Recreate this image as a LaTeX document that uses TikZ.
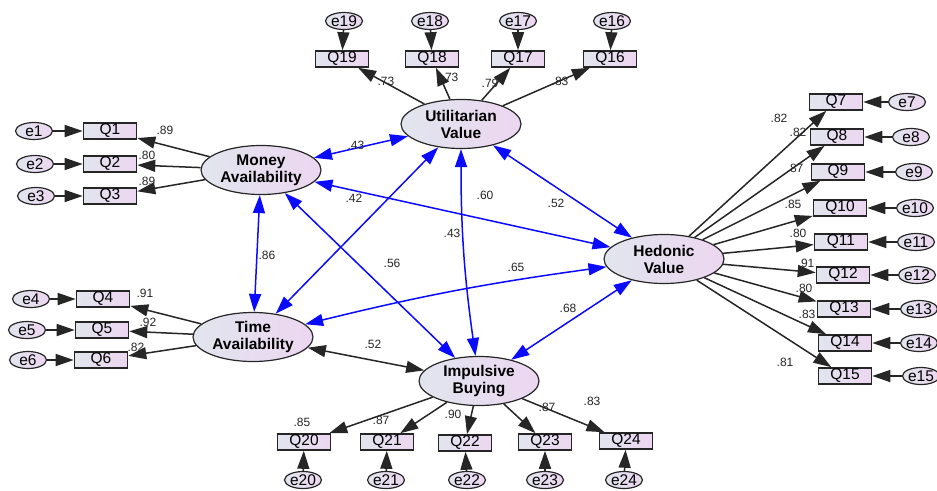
\documentclass[tikz,border=0pt]{standalone}
\usepackage{fontspec}
\setmainfont{Liberation Sans}
\usetikzlibrary{arrows.meta,shapes.geometric}

\begin{document}
\begin{tikzpicture}[x=1pt, y=-1pt,
    amosTip/.tip={Triangle[length=18pt,width=12pt]},
    latentVar/.style={ellipse, draw=lineCol, line width=1.2pt, left color=leftFill, right color=rightFill,
        minimum width=120pt, minimum height=49pt, inner sep=0pt, align=center,
        font=\bfseries\fontsize{15.5}{17}\selectfont},
    itemBox/.style={rectangle, draw=lineCol, line width=1.6pt, left color=leftFill, right color=rightFill,
        minimum width=53pt, minimum height=16pt, inner sep=0pt, font=\fontsize{15.5}{15.5}\selectfont},
    errVar/.style={ellipse, draw=lineCol, line width=1.2pt, left color=leftFill, right color=rightFill,
        minimum width=37pt, minimum height=17pt, inner sep=0pt, font=\fontsize{15.5}{15.5}\selectfont},
    coefLabel/.style={font=\fontsize{12}{12}\selectfont, text=black!85, inner sep=0pt},
    loadLine/.style={-amosTip, line width=1.5pt, draw=lineCol},
    covLine/.style={amosTip-amosTip, line width=1.5pt, draw=covCol}]

    % Colors
    \definecolor{lineCol}{HTML}{262626}
    \definecolor{covCol}{HTML}{0A0AFF}
    \definecolor{leftFill}{HTML}{E1E5EE}
    \definecolor{rightFill}{HTML}{EDD6F1}

    \useasboundingbox (0,0) rectangle (937,490);

    % 1. Latent variables
    \node[latentVar] (money) at (261,170) {Money\\Availability};
    \node[latentVar] (util)  at (461,124) {Utilitarian\\Value};
    \node[latentVar] (hed)   at (664,259) {Hedonic\\Value};
    \node[latentVar] (time)  at (253,337) {Time\\Availability};
    \node[latentVar] (imp)   at (479,381) {Impulsive\\Buying};

    % 2. Money Availability indicators (left)
    \foreach \i/\y/\ex/\v/\lx/\ly in {1/131/34/.89/165/130, 2/164/35/.80/147/155, 3/196/36/.89/147/181} {
        \node[itemBox] (q\i) at (110,\y) {Q\i};
        \node[errVar] (e\i) at (\ex,\y) {e\i};
        \draw[loadLine] (e\i) -- (q\i);
        \draw[loadLine] (money) -- (q\i);
        \node[coefLabel] (c\i) at (\lx,\ly) {\v};
    }

    % 3. Time Availability indicators (left)
    \foreach \i/\y/\qx/\ex/\v/\lx/\ly in {4/299/103/31/.91/145/293, 5/330/102/27/.92/148/322, 6/360/101/28/.82/136/347} {
        \node[itemBox] (q\i) at (\qx,\y) {Q\i};
        \node[errVar] (e\i) at (\ex,\y) {e\i};
        \draw[loadLine] (e\i) -- (q\i);
        \draw[loadLine] (time) -- (q\i);
        \node[coefLabel] (c\i) at (\lx,\ly) {\v};
    }

    % 4. Hedonic Value indicators (right)
    \foreach \i/\y/\qx/\ex/\v/\lx/\ly in {7/102/836/907/.82/779/118, 8/137/837/911/.82/798/132,
            9/172/838/914/.87/795/168, 10/208/840/915/.85/793/204, 11/242/841/916/.80/798/233,
            12/275/843/917/.91/806/263, 13/309/844/919/.80/804/288, 14/343/845/919/.83/807/314,
            15/376/845/921/.81/785/362} {
        \node[itemBox] (q\i) at (\qx,\y) {Q\i};
        \node[errVar] (e\i) at (\ex,\y) {e\i};
        \draw[loadLine] (e\i) -- (q\i);
        \draw[loadLine] (hed) -- (q\i);
        \node[coefLabel] (c\i) at (\lx,\ly) {\v};
    }

    % 5. Utilitarian Value indicators (top)
    \foreach \i/\qx/\ex/\v/\lx/\ly in {16/610/612/.83/560/81, 17/518/518/.79/490/83,
            18/432/430/.73/450/77, 19/342/344/.73/386/81} {
        \node[itemBox] (q\i) at (\qx,59) {Q\i};
        \node[errVar] (e\i) at (\ex,21) {e\i};
        \draw[loadLine] (e\i) -- (q\i);
        \draw[loadLine] (util) -- (q\i);
        \node[coefLabel] (c\i) at (\lx,\ly) {\v};
    }

    % 6. Impulsive Buying indicators (bottom)
    \foreach \i/\qx/\qy/\ex/\v/\lx/\ly in {20/304/442/303/.85/302/422, 21/387/442/386/.87/381/420,
            22/465/443/467/.90/453/414, 23/545/442/545/.87/547/407, 24/626/441/624/.83/592/401} {
        \node[itemBox] (q\i) at (\qx,\qy) {Q\i};
        \node[errVar] (e\i) at (\ex,480) {e\i};
        \draw[loadLine] (e\i) -- (q\i);
        \draw[loadLine] (imp) -- (q\i);
        \node[coefLabel] (c\i) at (\lx,\ly) {\v};
    }

    % 7. Covariances between latent variables
    \draw[covLine] (money) -- (util);
    \draw[covLine] (money) -- (time);
    \draw[covLine] (money) -- (imp);
    \draw[covLine] (money) -- (hed);
    \draw[covLine] (util) -- (time);
    \draw[covLine] (util) to[bend right=4] (imp);
    \draw[covLine] (util) -- (hed);
    \draw[covLine] (time) to[bend left=3] (hed);
    \draw[covLine] (imp) -- (hed);
    \draw[loadLine, amosTip-amosTip] (time) -- (imp);

    \node[coefLabel] (r1)  at (356,145) {.43};
    \node[coefLabel] (r2)  at (354,198) {.42};
    \node[coefLabel] (r3)  at (267,255) {.86};
    \node[coefLabel] (r4)  at (392,263) {.56};
    \node[coefLabel] (r5)  at (485,195) {.60};
    \node[coefLabel] (r6)  at (556,203) {.52};
    \node[coefLabel] (r7)  at (452,233) {.43};
    \node[coefLabel] (r8)  at (516,267) {.65};
    \node[coefLabel] (r9)  at (568,308) {.68};
    \node[coefLabel] (r10) at (373,344) {.52};
\end{tikzpicture}
\end{document}
